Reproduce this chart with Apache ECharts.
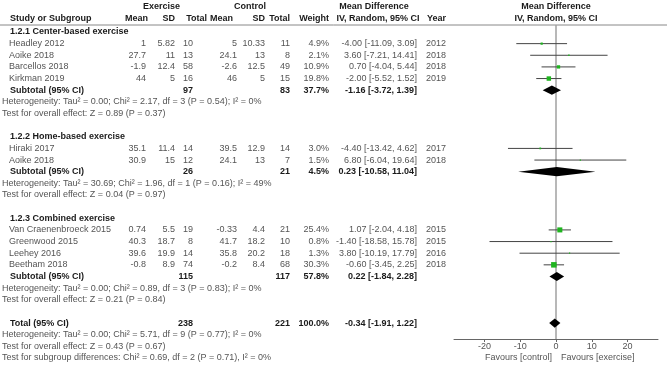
<!DOCTYPE html>
<html><head><meta charset="utf-8">
<script src="https://cdn.jsdelivr.net/npm/echarts@6/dist/echarts.min.js"></script>
<style>html,body{margin:0;padding:0;background:#fff}#c{width:667px;height:370px}</style>
</head><body><div id="c"></div>
<script>
const groupNames = ['1.2.1 Center-based exercise', '1.2.2 Home-based exercise', '1.2.3 Combined exercise'];
const studyNames = ['Headley 2012', 'Aoike 2018', 'Barcellos 2018', 'Kirkman 2019', 'Hiraki 2017', 'Aoike 2018', 'Van Craenenbroeck 2015', 'Greenwood 2015', 'Leehey 2016', 'Beetham 2018'];
const studyGroup = [0, 0, 0, 0, 1, 1, 2, 2, 2, 2];
const expMean = [1, 27.7, -1.9, 44, 35.1, 30.9, 0.74, 40.3, 39.6, -0.8];
const expSD = [5.82, 11, 12.4, 5, 11.4, 15, 5.5, 18.7, 19.9, 8.9];
const expN = [10, 13, 58, 16, 14, 12, 19, 8, 14, 74];
const ctlMean = [5, 24.1, -2.6, 46, 39.5, 24.1, -0.33, 41.7, 35.8, -0.2];
const ctlSD = [10.33, 13, 12.5, 5, 12.9, 13, 4.4, 18.2, 20.2, 8.4];
const ctlN = [11, 8, 49, 15, 14, 7, 21, 10, 18, 68];
const weight = [4.9, 2.1, 10.9, 19.8, 3.0, 1.5, 25.4, 0.8, 1.3, 30.3];
const md = [-4.00, 3.60, 0.70, -2.00, -4.40, 6.80, 1.07, -1.40, 3.80, -0.60];
const mdLo = [-11.09, -7.21, -4.04, -5.52, -13.42, -6.04, -2.04, -18.58, -10.19, -3.45];
const mdHi = [3.09, 14.41, 5.44, 1.52, 4.62, 19.64, 4.18, 15.78, 17.79, 2.25];
const year = [2012, 2018, 2018, 2019, 2017, 2018, 2015, 2015, 2016, 2018];

const subExpN = [97, 26, 115];
const subCtlN = [83, 21, 117];
const subWeight = [37.7, 4.5, 57.8];
const subMd = [-1.16, 0.23, 0.22];
const subLo = [-3.72, -10.58, -1.84];
const subHi = [1.39, 11.04, 2.28];
const subHet = [
  'Heterogeneity: Tau\u00b2 = 0.00; Chi\u00b2 = 2.17, df = 3 (P = 0.54); I\u00b2 = 0%',
  'Heterogeneity: Tau\u00b2 = 30.69; Chi\u00b2 = 1.96, df = 1 (P = 0.16); I\u00b2 = 49%',
  'Heterogeneity: Tau\u00b2 = 0.00; Chi\u00b2 = 0.89, df = 3 (P = 0.83); I\u00b2 = 0%'
];
const subTest = ['Test for overall effect: Z = 0.89 (P = 0.37)', 'Test for overall effect: Z = 0.04 (P = 0.97)', 'Test for overall effect: Z = 0.21 (P = 0.84)'];

const totalExpN = 238, totalCtlN = 221, totalWeight = 100.0;
const totalMd = -0.34, totalLo = -1.91, totalHi = 1.22;
const totalHet = 'Heterogeneity: Tau\u00b2 = 0.00; Chi\u00b2 = 5.71, df = 9 (P = 0.77); I\u00b2 = 0%';
const totalTest = 'Test for overall effect: Z = 0.43 (P = 0.67)';
const subgroupTest = 'Test for subgroup differences: Chi\u00b2 = 0.69, df = 2 (P = 0.71), I\u00b2 = 0%';
const xTicks = [-20, -10, 0, 10, 20];

// ---- row layout ----
const rows = [];
let r = 0;
const studyRows = [], diamondRows = [];
for (let g = 0; g < groupNames.length; g++) {
  rows.push({type: 'head', r: r++, g});
  for (let i = 0; i < studyNames.length; i++) if (studyGroup[i] === g) { rows.push({type: 'study', r, i}); studyRows.push([md[i], r, mdLo[i], mdHi[i], weight[i]]); r++; }
  rows.push({type: 'sub', r, g}); diamondRows.push([subMd[g], r, subLo[g], subHi[g]]); r++;
  rows.push({type: 'text', r: r++, t: subHet[g]});
  rows.push({type: 'text', r: r++, t: subTest[g]});
  r++;
}
rows.push({type: 'total', r}); diamondRows.push([totalMd, r, totalLo, totalHi]); r++;
rows.push({type: 'text', r: r++, t: totalHet});
rows.push({type: 'text', r: r++, t: totalTest});
rows.push({type: 'text', r: r++, t: subgroupTest});

const FONT = '"Liberation Sans", Arial, sans-serif';
const FS = 9;
const NORM = '#555', BOLD = '#1a1a1a';

const chart = echarts.init(document.getElementById('c'));
const yMin = -0.6, yMax = 26.37;
chart.setOption({
  animation: false,
  grid: {left: 454, width: 204, top: 25, bottom: 31},
  xAxis: {
    type: 'value', min: -28.5, max: 28.5,
    axisLine: {show: true, onZero: false, lineStyle: {color: '#666', width: 1}},
    axisTick: {show: true, length: 3, customValues: xTicks, lineStyle: {color: '#666'}},
    axisLabel: {customValues: xTicks, color: '#555', fontSize: FS, fontFamily: FONT, margin: 3},
    splitLine: {show: false}
  },
  yAxis: {type: 'value', inverse: true, min: yMin, max: yMax, show: false, splitLine: {show: false}},
  series: [
    {
      type: 'line', data: [[0, yMin], [0, yMax]], symbol: 'none',
      lineStyle: {color: '#a0a0a0', width: 1.5}, z: 1, silent: true
    },
    {
      type: 'custom', data: studyRows, z: 3, silent: true,
      renderItem: function (params, api) {
        const y = api.value(1);
        const p0 = api.coord([api.value(2), y]);
        const p1 = api.coord([api.value(3), y]);
        const c = api.coord([api.value(0), y]);
        const s = Math.max(1.2, 1.0 * Math.sqrt(api.value(4)));
        return {type: 'group', children: [
          {type: 'line', shape: {x1: p0[0], y1: p0[1], x2: p1[0], y2: p1[1]}, style: {stroke: '#444', lineWidth: 1}},
          {type: 'rect', shape: {x: c[0] - s / 2, y: c[1] - s / 2, width: s, height: s}, style: {fill: '#1fb41f'}}
        ]};
      }
    },
    {
      type: 'custom', data: diamondRows, z: 3, silent: true,
      renderItem: function (params, api) {
        const y = api.value(1);
        const a = api.coord([api.value(2), y]);
        const b = api.coord([api.value(3), y]);
        const c = api.coord([api.value(0), y]);
        const h = 4.6;
        return {type: 'polygon', shape: {points: [[a[0], c[1]], [c[0], c[1] - h], [b[0], c[1]], [c[0], c[1] + h]]}, style: {fill: '#000'}};
      }
    }
  ]
});

const rowY = (rr) => chart.convertToPixel({gridIndex: 0}, [0, rr])[1];
const zeroX = chart.convertToPixel({gridIndex: 0}, [0, 0])[0];
const graphics = [];
function T(x, y, text, align, bold, color) {
  graphics.push({type: 'text', x: x, y: y, silent: true, style: {
    text: String(text), x: 0, y: 0, align: align || 'left', verticalAlign: 'middle',
    font: (bold ? 'bold ' : '') + FS + 'px ' + FONT, fill: color || (bold ? BOLD : NORM)
  }});
}
// header
T(161.5, 7, 'Exercise', 'center', true);
T(250, 7, 'Control', 'center', true);
T(374, 7, 'Mean Difference', 'center', true);
T(zeroX, 7, 'Mean Difference', 'center', true);
T(10, 19, 'Study or Subgroup', 'left', true);
T(148, 19, 'Mean', 'right', true);
T(175, 19, 'SD', 'right', true);
T(207, 19, 'Total', 'right', true);
T(233, 19, 'Mean', 'right', true);
T(265, 19, 'SD', 'right', true);
T(290, 19, 'Total', 'right', true);
T(329, 19, 'Weight', 'right', true);
T(378, 19, 'IV, Random, 95% CI', 'center', true);
T(446, 19, 'Year', 'right', true);
T(zeroX, 19, 'IV, Random, 95% CI', 'center', true);
graphics.push({type: 'line', silent: true, shape: {x1: 0, y1: 25, x2: 667, y2: 25}, style: {stroke: '#888', lineWidth: 1}});

const ci = (m, lo, hi) => m.toFixed(2) + ' [' + lo.toFixed(2) + ', ' + hi.toFixed(2) + ']';
rows.forEach(function (row) {
  const y = rowY(row.r);
  if (row.type === 'head') T(10, y, groupNames[row.g], 'left', true);
  else if (row.type === 'study') {
    const i = row.i;
    T(9, y, studyNames[i], 'left');
    T(146, y, expMean[i], 'right');
    T(175, y, expSD[i], 'right');
    T(193, y, expN[i], 'right');
    T(237, y, ctlMean[i], 'right');
    T(265, y, ctlSD[i], 'right');
    T(290, y, ctlN[i], 'right');
    T(329, y, weight[i].toFixed(1) + '%', 'right');
    T(417, y, ci(md[i], mdLo[i], mdHi[i]), 'right');
    T(446, y, year[i], 'right');
  } else if (row.type === 'sub') {
    const g = row.g;
    T(10, y, 'Subtotal (95% CI)', 'left', true);
    T(193, y, subExpN[g], 'right', true);
    T(290, y, subCtlN[g], 'right', true);
    T(329, y, subWeight[g].toFixed(1) + '%', 'right', true);
    T(417, y, ci(subMd[g], subLo[g], subHi[g]), 'right', true);
  } else if (row.type === 'total') {
    T(10, y, 'Total (95% CI)', 'left', true);
    T(193, y, totalExpN, 'right', true);
    T(290, y, totalCtlN, 'right', true);
    T(329, y, totalWeight.toFixed(1) + '%', 'right', true);
    T(417, y, ci(totalMd, totalLo, totalHi), 'right', true);
  } else if (row.type === 'text') {
    T(2, y, row.t, 'left');
  }
});
T(zeroX - 4, 358, 'Favours [control]', 'right');
T(zeroX + 5, 358, 'Favours [exercise]', 'left');
chart.setOption({graphic: graphics});
</script>
</body></html>
